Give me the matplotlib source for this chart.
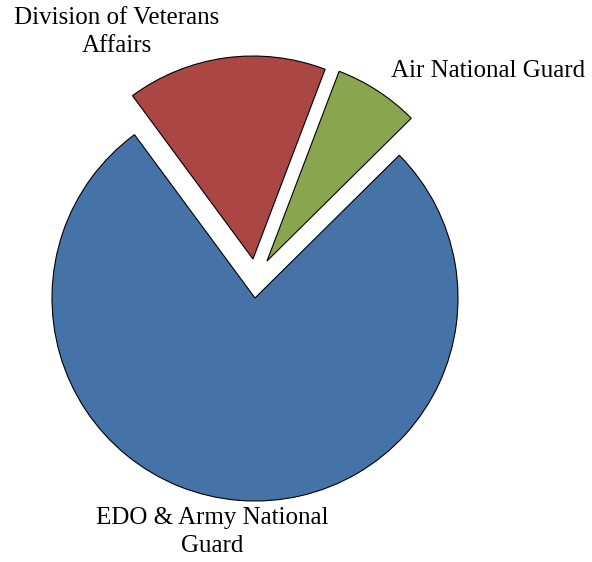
import numpy as np
import matplotlib.pyplot as plt

labels = ["Air National Guard", "Division of Veterans\nAffairs", "EDO & Army National\nGuard"]
values = [6.8, 15.9, 77.3]
colors = ["#89A54E", "#AA4643", "#4572A7"]

# pulled-out offsets of the sliced wedges (in radius units)
offsets = [(0.059, 0.182), (-0.010, 0.192), (0.0, 0.0)]

# label positions (data coords, radius = 1)
label_pos = [(1.148, 1.118), (-0.680, 1.310), (-0.212, -1.153)]

W, H = 592, 562
cx, cy, r = 255, 298, 203

fig = plt.figure(figsize=(W / 100, H / 100), dpi=100)
ax = fig.add_axes([0, 0, 1, 1])

wedges, _ = ax.pie(values, colors=colors, startangle=44.7,
                   counterclock=True, radius=1.0,
                   wedgeprops=dict(edgecolor="black", linewidth=0.8))
for w, off in zip(wedges, offsets):
    w.set_center(off)

for lab, (x, y) in zip(labels, label_pos):
    ax.text(x, y, lab, ha="center", va="center", fontsize=18,
            family="Liberation Serif", linespacing=1.35)

ax.set_xlim(-cx / r, (W - cx) / r)
ax.set_ylim(-(H - cy) / r, cy / r)
ax.set_aspect("equal")
ax.axis("off")

fig.savefig("out.png", dpi=100)
